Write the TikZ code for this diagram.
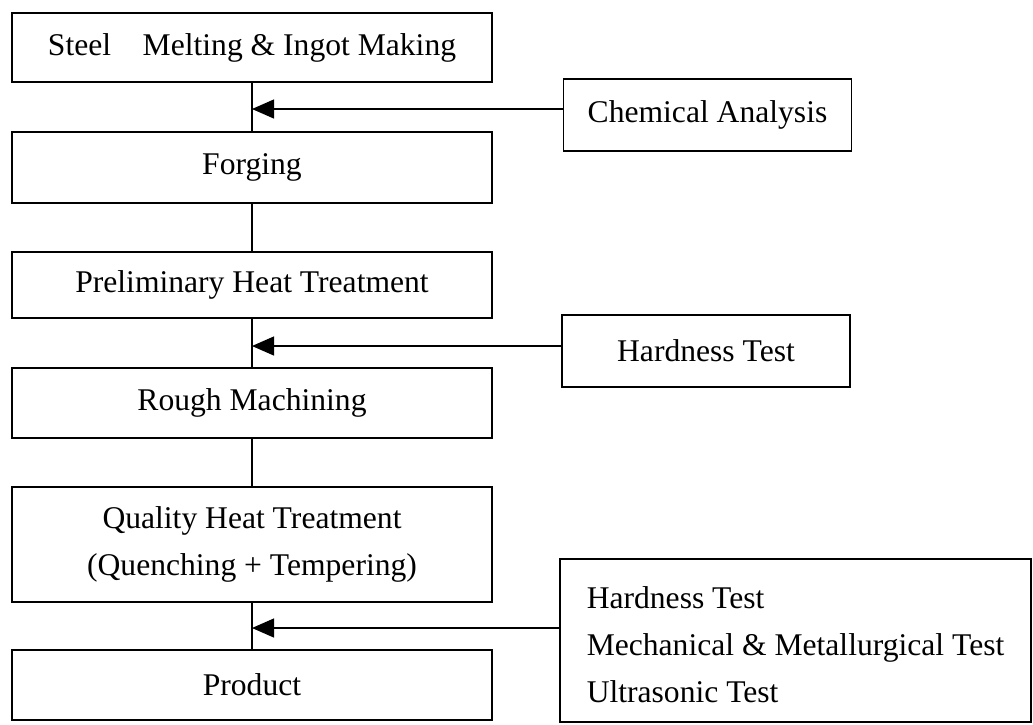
\documentclass[tikz,border=0pt]{standalone}
\usepackage{fontspec}
\setmainfont{Liberation Serif}
\usetikzlibrary{arrows.meta}

\begin{document}
\begin{tikzpicture}
[-,line width=1.2pt,x=1pt,y=-1pt,%
  every node/.style={shape=rectangle,draw,line width=1.2pt,inner sep=0pt,%
    font=\fontsize{31.6}{47}\selectfont},%
  stage/.style={minimum width=480pt},%
  check/.style={minimum width=288pt,minimum height=72pt},%
  feed/.style={-{Triangle[length=22pt,width=19pt]}}]
\useasboundingbox (0,0) rectangle (1033,724);
% main line
\node[stage,minimum height=69pt] (melt) at (252,47.5) {Steel\quad Melting \& Ingot Making};
\node[stage,minimum height=71pt] (forge) at (252,167.5) {Forging};
\node[stage,minimum height=66pt] (prelim) at (252,285) {Preliminary Heat Treatment};
\node[stage,minimum height=70pt] (rough) at (252,403) {Rough Machining};
\node[stage,minimum height=115pt,align=center] (quality) at (252,544.5)
  {Quality Heat Treatment\\(Quenching + Tempering)};
\node[stage,minimum height=70pt] (product) at (252,685) {Product};
% checks
\node[check] (chem) at (707.5,115) {Chemical Analysis};
\node[check] (hard) at (706,351) {Hardness Test};
\node[minimum width=471pt,minimum height=163pt,align=left] (tests) at (795.5,640.5)
  {\rule{0pt}{31pt}Hardness Test\\Mechanical \& Metallurgical Test\\Ultrasonic Test};
% joints
\coordinate (j1) at (252,109);
\coordinate (j2) at (252,346);
\coordinate (j3) at (252,628);
\draw (melt) -- (forge);
\draw (forge) -- (prelim);
\draw (prelim) -- (rough);
\draw (rough) -- (quality);
\draw (quality) -- (product);
\draw[feed] (chem.west |- j1) -- (j1);
\draw[feed] (hard.west |- j2) -- (j2);
\draw[feed] (tests.west |- j3) -- (j3);
\end{tikzpicture}
\end{document}
